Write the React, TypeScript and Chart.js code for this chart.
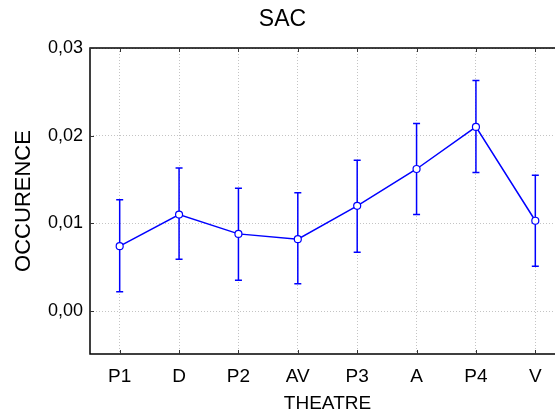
import React, { useEffect, useRef } from "react";
import { Chart, registerables } from "chart.js";

Chart.register(...registerables);

const chartTitle = "SAC";
const xTitle = "THEATRE";
const yTitle = "OCCURENCE";
const categories = ["P1", "D", "P2", "AV", "P3", "A", "P4", "V"];
const means = [0.0074, 0.011, 0.0088, 0.0082, 0.012, 0.0162, 0.021, 0.0103];
const upper = [0.0127, 0.0163, 0.014, 0.0135, 0.0172, 0.0214, 0.0263, 0.0155];
const lower = [0.0022, 0.0059, 0.0035, 0.0031, 0.0067, 0.011, 0.0158, 0.0051];
const yTicks = [0, 0.01, 0.02, 0.03];

const BLUE = "#0000ff";
const FONT = "'Liberation Sans', Arial, sans-serif";

const framePlugin = {
  id: "frameAndErrors",
  beforeDatasetsDraw(chart: any) {
    const { ctx } = chart;
    const xs = chart.scales.x;
    const ys = chart.scales.y;
    ctx.save();
    ctx.strokeStyle = BLUE;
    ctx.lineWidth = 1.5;
    means.forEach((_, i) => {
      const px = xs.getPixelForValue(i);
      const pt = ys.getPixelForValue(upper[i]);
      const pb = ys.getPixelForValue(lower[i]);
      ctx.beginPath();
      ctx.moveTo(px, pt);
      ctx.lineTo(px, pb);
      ctx.moveTo(px - 3.5, pt);
      ctx.lineTo(px + 3.5, pt);
      ctx.moveTo(px - 3.5, pb);
      ctx.lineTo(px + 3.5, pb);
      ctx.stroke();
    });
    ctx.restore();
  },
  afterDraw(chart: any) {
    const { ctx, chartArea } = chart;
    const { left, right, top, bottom } = chartArea;
    const xs = chart.scales.x;
    const ys = chart.scales.y;
    ctx.save();
    ctx.strokeStyle = "#000";
    ctx.lineWidth = 1.5;
    ctx.beginPath();
    ctx.moveTo(right, top);
    ctx.lineTo(left, top);
    ctx.lineTo(left, bottom);
    ctx.lineTo(right, bottom);
    ctx.stroke();
    ctx.lineWidth = 1;
    ctx.strokeStyle = "#333";
    ctx.beginPath();
    categories.forEach((_, i) => {
      const px = Math.round(xs.getPixelForValue(i)) + 0.5;
      ctx.moveTo(px, top);
      ctx.lineTo(px, top + 4);
      ctx.moveTo(px, bottom);
      ctx.lineTo(px, bottom - 4);
    });
    yTicks.forEach((v) => {
      const py = Math.round(ys.getPixelForValue(v)) + 0.5;
      ctx.moveTo(left, py);
      ctx.lineTo(left + 4, py);
    });
    ctx.stroke();
    ctx.restore();
  },
};

export default function App() {
  const ref = useRef<HTMLCanvasElement>(null);

  useEffect(() => {
    if (!ref.current) return;
    const chart = new Chart(ref.current, {
      type: "line",
      data: {
        datasets: [
          {
            data: means.map((m, i) => ({ x: i, y: m })),
            borderColor: BLUE,
            borderWidth: 1.5,
            pointRadius: 3.5,
            pointBackgroundColor: "#ffffff",
            pointBorderColor: BLUE,
            pointBorderWidth: 1.2,
            tension: 0,
            fill: false,
          },
        ],
      },
      options: {
        responsive: false,
        animation: false,
        layout: { padding: { left: 0, right: 15, top: 0, bottom: 0 } },
        plugins: {
          legend: { display: false },
          tooltip: { enabled: false },
          title: {
            display: true,
            text: chartTitle,
            color: "#000",
            font: { family: FONT, size: 23, weight: "normal" },
            padding: { top: 6, bottom: 14.4 },
          },
        },
        scales: {
          x: {
            type: "linear",
            min: -0.5,
            max: 7.5,
            afterBuildTicks: (s: any) => {
              s.ticks = categories.map((_, i) => ({ value: i }));
            },
            afterFit: (s: any) => {
              s.height = 63;
            },
            ticks: {
              callback: (v: any) => categories[v] ?? "",
              color: "#000",
              font: { family: FONT, size: 19 },
              padding: 11,
              maxRotation: 0,
              autoSkip: false,
            },
            grid: { color: "#c4c4c4", lineWidth: 1, drawTicks: false },
            border: { display: false, dash: [1, 2] },
            title: {
              display: true,
              text: xTitle,
              color: "#000",
              font: { family: FONT, size: 19 },
              padding: { top: 0, bottom: 1.5 },
            },
          },
          y: {
            type: "linear",
            min: -0.0049,
            max: 0.03,
            afterBuildTicks: (s: any) => {
              s.ticks = yTicks.map((v) => ({ value: v }));
            },
            afterFit: (s: any) => {
              s.width = 90;
            },
            ticks: {
              callback: (v: any) => Number(v).toFixed(2).replace(".", ","),
              color: "#000",
              font: { family: FONT, size: 18 },
              padding: 7,
            },
            grid: { color: "#c4c4c4", lineWidth: 1, drawTicks: false },
            border: { display: false, dash: [1, 2] },
            title: {
              display: true,
              text: yTitle,
              color: "#000",
              font: { family: FONT, size: 22 },
              padding: { top: 11, bottom: 0 },
            },
          },
        },
      },
      plugins: [framePlugin],
    } as any);
    return () => chart.destroy();
  }, []);

  return (
    <div
      style={{
        position: "absolute",
        left: 0,
        top: 0,
        width: 555,
        height: 417,
        overflow: "hidden",
        background: "#fff",
      }}
    >
      <canvas ref={ref} width={580} height={417} style={{ display: "block" }} />
    </div>
  );
}
